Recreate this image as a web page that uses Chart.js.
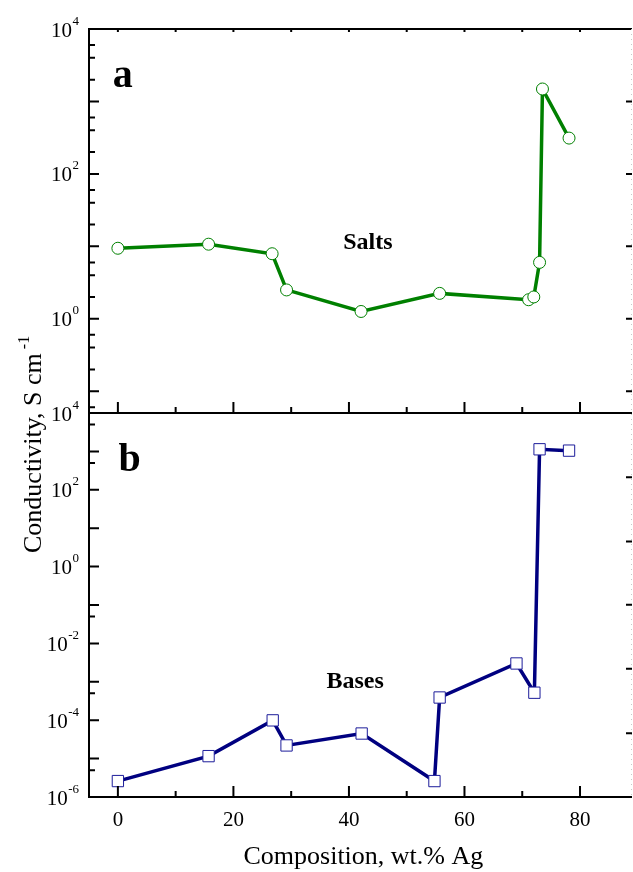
<!DOCTYPE html>
<html lang="en">
<head>
<meta charset="UTF-8">
<title>Conductivity vs composition</title>
<script src="https://cdn.jsdelivr.net/npm/chart.js"></script>
<style>
  html, body { margin: 0; padding: 0; background: #fff; overflow: hidden; }
  canvas { display: block; }
</style>
</head>
<body>
<canvas id="myChart" width="633" height="872"></canvas>
<script>
// composition, wt.% Ag  /  conductivity, S cm-1
const saltsX = [0, 15.7, 26.7, 29.2, 42.1, 55.7, 71.1, 72.0, 73.0, 73.5, 78.1];
const saltsY = [9.4, 10.7, 7.9, 2.5, 1.26, 2.24, 1.83, 2.0, 6.0, 1485, 312];
const basesX = [0, 15.7, 26.8, 29.2, 42.2, 54.8, 55.7, 69.0, 72.1, 73.0, 78.1];
const basesY = [2.6e-6, 1.16e-5, 9.9e-5, 2.2e-5, 4.5e-5, 2.6e-6, 3.9e-4, 3.0e-3, 5.2e-4, 1135, 1047];

// axis ticks
const xTicks = [0, 20, 40, 60, 80];
const xMinorTicks = [10, 30, 50, 70];
const saltsLabelTicks = [1e4, 1e2, 1e0];
const saltsMajorTicks = [1e4, 1e3, 1e2, 1e1, 1e0, 1e-1];
const saltsMinorTicks = [6e3, 4e3, 2e3, 600, 400, 200, 60, 40, 20, 6, 4, 2, 0.6, 0.4, 0.2, 0.06];
const saltsRightTicks = [1e3, 1e2, 1e1, 1e0, 1e-1];
const basesLabelTicks = [1e4, 1e2, 1e0, 1e-2, 1e-4, 1e-6];
const basesMajorTicks = [1e4, 1e3, 1e2, 1e1, 1e0, 1e-1, 1e-2, 1e-3, 1e-4, 1e-5, 1e-6];
const basesMinorTicks = [5e3, 5e2, 5e-2, 5e-4, 5e-6];
const basesRightTicks = [211, 4.5, 0.102, 2.2e-3, 4.6e-5];

const serif = '"Liberation Serif", "Times New Roman", serif';

// superscript label "10^n"
function powLabel(ctx, v, xRight, y) {
  const exp = String(Math.round(Math.log10(v)));
  ctx.font = '13px ' + serif;
  const ew = ctx.measureText(exp).width;
  ctx.textAlign = 'left';
  ctx.fillText(exp, xRight - ew, y - 4.5);
  ctx.font = '21px ' + serif;
  ctx.textAlign = 'right';
  ctx.fillText('10', xRight - ew - 0.5, y + 7.5);
}

const framePlugin = {
  id: 'frame',
  afterDraw(chart, args, opts) {
    const ctx = chart.ctx;
    const x = chart.scales.x;
    const yA = chart.scales.yA;
    const yB = chart.scales.yB;
    const L = chart.chartArea.left, R = chart.chartArea.right;
    ctx.save();
    ctx.strokeStyle = '#000';
    ctx.fillStyle = '#000';
    ctx.lineWidth = 2;

    // frame
    ctx.beginPath();
    ctx.moveTo(L, yA.top); ctx.lineTo(R, yA.top);
    ctx.moveTo(L, yA.bottom); ctx.lineTo(R, yA.bottom);
    ctx.moveTo(L, yB.bottom); ctx.lineTo(R, yB.bottom);
    ctx.moveTo(L, yA.top - 1); ctx.lineTo(L, yB.bottom + 1);
    ctx.stroke();
    ctx.save();
    ctx.lineWidth = 1;
    ctx.strokeStyle = '#c8c8c8';
    ctx.setLineDash([1, 4]);
    ctx.beginPath();
    ctx.moveTo(R - 0.5, yA.top); ctx.lineTo(R - 0.5, yB.bottom);
    ctx.stroke();
    ctx.restore();

    // y ticks, left side inward
    const yTicks = (scale, list, len) => {
      list.forEach(v => {
        const p = scale.getPixelForValue(v);
        ctx.moveTo(L, p); ctx.lineTo(L + len, p);
      });
    };
    ctx.beginPath();
    yTicks(yA, saltsMajorTicks, 10);
    yTicks(yA, saltsMinorTicks, 6);
    yTicks(yB, basesMajorTicks, 10);
    yTicks(yB, basesMinorTicks, 6);
    // right side
    saltsRightTicks.forEach(v => {
      const p = yA.getPixelForValue(v);
      ctx.moveTo(R, p); ctx.lineTo(R - 6, p);
    });
    basesRightTicks.forEach(v => {
      const p = yB.getPixelForValue(v);
      ctx.moveTo(R, p); ctx.lineTo(R - 6, p);
    });
    // x ticks on bottom of each panel and top of panel a
    [yA.bottom, yB.bottom].forEach(b => {
      xTicks.forEach(v => { const p = x.getPixelForValue(v); ctx.moveTo(p, b); ctx.lineTo(p, b - 11); });
      xMinorTicks.forEach(v => { const p = x.getPixelForValue(v); ctx.moveTo(p, b); ctx.lineTo(p, b - 6); });
    });
    xTicks.concat(xMinorTicks).forEach(v => {
      const p = x.getPixelForValue(v);
      ctx.moveTo(p, yA.top); ctx.lineTo(p, yA.top + 3);
    });
    ctx.stroke();

    // tick labels
    ctx.textBaseline = 'alphabetic';
    saltsLabelTicks.forEach(v => powLabel(ctx, v, L - 10, yA.getPixelForValue(v)));
    basesLabelTicks.forEach(v => powLabel(ctx, v, L - 10, yB.getPixelForValue(v)));
    ctx.font = '21px ' + serif;
    ctx.textAlign = 'center';
    xTicks.forEach(v => ctx.fillText(String(v), x.getPixelForValue(v), yB.bottom + 29));

    // axis titles
    ctx.font = '26px ' + serif;
    ctx.textAlign = 'center';
    ctx.fillText('Composition, wt.% Ag', x.getPixelForValue(42.5), chart.height - 8);

    ctx.save();
    ctx.translate(41, 553);
    ctx.rotate(-Math.PI / 2);
    ctx.textAlign = 'left';
    const t = 'Conductivity, S cm';
    ctx.fillText(t, 0, 0);
    const w = ctx.measureText(t).width;
    ctx.font = '16px ' + serif;
    ctx.fillText('-1', w + 4, -12);
    ctx.restore();

    // panel notes
    opts.notes.forEach(n => {
      ctx.font = 'bold ' + n.size + 'px ' + serif;
      ctx.textAlign = 'left';
      ctx.fillText(n.text, x.getPixelForValue(n.x), chart.scales[n.axis].getPixelForValue(n.y));
    });
    ctx.restore();
  }
};

const noScaleDraw = {
  ticks: { display: false },
  grid: { display: false },
  border: { display: false }
};

new Chart(document.getElementById('myChart'), {
  type: 'line',
  data: {
    datasets: [
      {
        label: 'Salts',
        data: saltsX.map((v, i) => ({ x: v, y: saltsY[i] })),
        yAxisID: 'yA',
        borderColor: '#008000',
        borderWidth: 3.5,
        pointStyle: 'circle',
        pointRadius: 6,
        pointBackgroundColor: '#fff',
        pointBorderColor: '#008000',
        pointBorderWidth: 1,
        tension: 0
      },
      {
        label: 'Bases',
        data: basesX.map((v, i) => ({ x: v, y: basesY[i] })),
        yAxisID: 'yB',
        borderColor: '#000080',
        borderWidth: 3.5,
        pointStyle: 'rect',
        pointRadius: 8,
        pointBackgroundColor: '#fff',
        pointBorderColor: '#1c1c9a',
        pointBorderWidth: 1,
        tension: 0
      }
    ]
  },
  options: {
    responsive: false,
    animation: false,
    layout: { autoPadding: false, padding: { top: 29, right: 1, left: 0, bottom: 0 } },
    scales: {
      x: Object.assign({ type: 'linear', min: -5, max: 89,
        afterFit(s) { s.height = 75; } }, noScaleDraw),
      yB: Object.assign({ type: 'logarithmic', min: 1e-6, max: 1e4, position: 'left',
        stack: 'panels', stackWeight: 1,
        afterFit(s) { s.width = 89; } }, noScaleDraw),
      yA: Object.assign({ type: 'logarithmic', min: 0.05, max: 1e4, position: 'left',
        stack: 'panels', stackWeight: 1,
        afterFit(s) { s.width = 89; } }, noScaleDraw)
    },
    plugins: {
      legend: { display: false },
      tooltip: { enabled: false },
      frame: {
        notes: [
          { text: 'a', x: -0.9, y: 1570, axis: 'yA', size: 40 },
          { text: 'b', x: 0.1, y: 300, axis: 'yB', size: 40 },
          { text: 'Salts', x: 39.0, y: 9.3, axis: 'yA', size: 24 },
          { text: 'Bases', x: 36.1, y: 6.9e-4, axis: 'yB', size: 24 }
        ]
      }
    }
  },
  plugins: [framePlugin]
});
</script>
</body>
</html>
